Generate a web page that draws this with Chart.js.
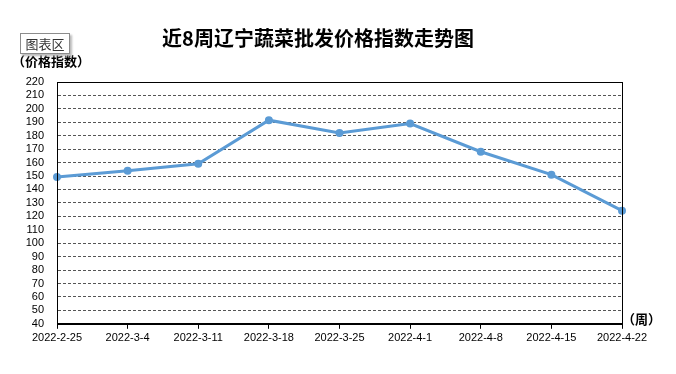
<!DOCTYPE html>
<html>
<head>
<meta charset="utf-8">
<script src="https://cdn.jsdelivr.net/npm/chart.js@4"></script>
<style>
  body { margin: 0; background: #fff; }
  #wrap { position: relative; width: 676px; height: 374px; }
  #areaTag {
    position: absolute; left: 20px; top: 33px; width: 48px; height: 19px;
    border: 1px solid #8c8c8c; background: #fff; box-shadow: 2px 2px 2px #bbb;
    font: 13px "Noto Sans CJK SC", sans-serif; color: #333; line-height: 19px; text-align: center;
  }
</style>
</head>
<body>
<div id="wrap">
  <canvas id="chart" width="676" height="374"></canvas>
  <div id="areaTag">图表区</div>
</div>
<script>
// Chart data
const weeks = ['2022-2-25', '2022-3-4', '2022-3-11', '2022-3-18', '2022-3-25', '2022-4-1', '2022-4-8', '2022-4-15', '2022-4-22'];
const priceIndex = [149.3, 153.9, 159.2, 191.6, 182.1, 189.1, 168.1, 151.0, 124.2];
const titleText = '近8周辽宁蔬菜批发价格指数走势图';
const yUnit = '（价格指数）';
const xUnit = '（周）';

const cjk = '"Noto Sans CJK SC", sans-serif';

// Extra texts and plot frame
const decorations = {
    id: 'decorations',
    afterDraw(chart) {
        const ctx = chart.ctx;
        const a = chart.chartArea;
        ctx.save();
        ctx.strokeStyle = '#000';
        ctx.lineWidth = 1;
        ctx.strokeRect(Math.round(a.left) + 0.5, Math.round(a.top) + 0.5, Math.round(a.right - a.left), Math.round(a.bottom - a.top));
        ctx.fillStyle = '#000';
        ctx.textBaseline = 'middle';
        ctx.font = 'bold 20px ' + cjk;
        ctx.textAlign = 'center';
        ctx.fillText(titleText, 318, 38);
        ctx.font = 'bold 13px ' + cjk;
        ctx.textAlign = 'left';
        ctx.fillText(yUnit, 12, 61);
        ctx.fillText(xUnit, 622, 319);
        ctx.restore();
    }
};

new Chart(document.getElementById('chart'), {
    type: 'line',
    data: {
        labels: weeks,
        datasets: [{
            data: priceIndex,
            borderColor: '#5B9BD5',
            backgroundColor: '#5B9BD5',
            borderWidth: 3,
            pointRadius: 2.5,
            pointHoverRadius: 2.5,
            tension: 0
        }]
    },
    options: {
        responsive: false,
        animation: false,
        layout: { padding: { top: 82, right: 54, left: 0, bottom: 26 } },
        plugins: { legend: { display: false }, tooltip: { enabled: false } },
        scales: {
            x: {
                offset: false,
                grid: { drawOnChartArea: false, drawTicks: true, tickLength: 5, color: '#000' },
                border: { display: true, color: '#000' },
                ticks: { color: '#000', font: { size: 11, family: 'Liberation Sans' }, padding: 3, maxRotation: 0, autoSkip: false }
            },
            y: {
                min: 40,
                max: 220,
                afterFit(scale) { scale.width = 57; },
                grid: { drawTicks: false, color: '#555' },
                border: { display: true, color: '#000', dash: [3, 2] },
                ticks: { stepSize: 10, autoSkip: false, color: '#000', font: { size: 11, family: 'Liberation Sans' }, padding: 13 }
            }
        }
    },
    plugins: [decorations]
});
</script>
</body>
</html>
